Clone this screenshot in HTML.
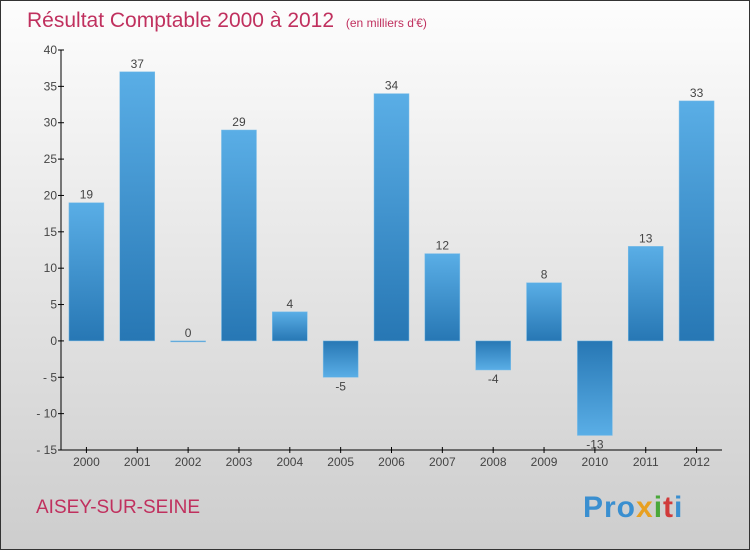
<!DOCTYPE html>
<html><head><meta charset="utf-8"><style>
html,body{margin:0;padding:0}
body{width:750px;height:550px;overflow:hidden;font-family:"Liberation Sans",sans-serif}
#frame{position:absolute;left:0;top:0;width:748px;height:548px;border:1px solid #333;background:linear-gradient(#fdfdfd,#cdcdcd)}
</style></head><body>
<div id="frame">
<svg width="750" height="550" style="position:absolute;left:-1px;top:-1px">
<defs>
<linearGradient id="gp" x1="0" y1="0" x2="0" y2="1"><stop offset="0" stop-color="#5aaee6"/><stop offset="1" stop-color="#2777b4"/></linearGradient>
<linearGradient id="gn" x1="0" y1="0" x2="0" y2="1"><stop offset="0" stop-color="#2777b4"/><stop offset="1" stop-color="#5aaee6"/></linearGradient>
</defs>
<text x="27" y="27" font-size="21" fill="#c0305e">Résultat Comptable 2000 à 2012 <tspan font-size="12" dx="6">(en milliers d'€)</tspan></text>
<g id="axes"></g>
<g id="bars"></g>
<text x="36" y="513" font-size="19" fill="#c0305e">AISEY-SUR-SEINE</text>
<text x="583" y="517" font-size="30" font-weight="bold" letter-spacing="1"><tspan fill="#3a8fd0">Pro</tspan><tspan fill="#e8a020">x</tspan><tspan fill="#4aa83a">i</tspan><tspan fill="#d03a3a">t</tspan><tspan fill="#3a8fd0">i</tspan></text>
</svg></div>
<script>
const categories=["2000","2001","2002","2003","2004","2005","2006","2007","2008","2009","2010","2011","2012"];
const values=[19,37,0,29,4,-5,34,12,-4,8,-13,13,33];
const yTicks=[40,35,30,25,20,15,10,5,0,-5,-10,-15];
const NS="http://www.w3.org/2000/svg";
const yMin=-15,yMax=40,plotTop=50,plotBot=450,plotLeft=61,plotRight=722;
const y=v=>plotBot-(v-yMin)/(yMax-yMin)*(plotBot-plotTop);
const step=(plotRight-plotLeft)/categories.length;
const x=i=>plotLeft+step*(i+0.5);
function mk(tag,attrs,parent){const e=document.createElementNS(NS,tag);for(const k in attrs)e.setAttribute(k,attrs[k]);parent.appendChild(e);return e;}
const ax=document.getElementById('axes'),bg=document.getElementById('bars');
let l=mk('line',{x1:plotLeft,y1:plotTop,x2:plotLeft,y2:plotBot,stroke:'#000'},ax);


l=mk('line',{x1:plotLeft,y1:plotBot,x2:plotRight,y2:plotBot,stroke:'#000'},ax);


yTicks.forEach(t=>{
 mk('line',{x1:plotLeft-3,y1:y(t),x2:plotLeft+3,y2:y(t),stroke:'#000'},ax);
 const tx=mk('text',{x:plotLeft-4,y:y(t)+4,'font-size':12,fill:'#444','text-anchor':'end'},ax);
 tx.textContent=t<0?'- '+(-t):t;
 
 
});
const bw=35;
categories.forEach((c,i)=>{
 mk('line',{x1:x(i),y1:plotBot-3,x2:x(i),y2:plotBot+3,stroke:'#000'},ax);
 const tx=mk('text',{x:x(i),y:plotBot+16,'font-size':12,fill:'#444','text-anchor':'middle'},ax);
 tx.textContent=c;
 
 
 const v=values[i];
 const y0=y(0),yv=y(v);
 const r=mk('rect',{x:x(i)-bw/2,y:Math.min(y0,yv),width:bw,height:Math.max(1,Math.abs(yv-y0)),fill:v>=0?'url(#gp)':'url(#gn)',stroke:'#7fbfe8','stroke-width':0.5},bg);
 
 
 const lt=mk('text',{x:x(i),y:v>=0?yv-4:yv+13,'font-size':12,fill:'#444','text-anchor':'middle'},bg);
 lt.textContent=v;
 
 
});
</script>
</body></html>
